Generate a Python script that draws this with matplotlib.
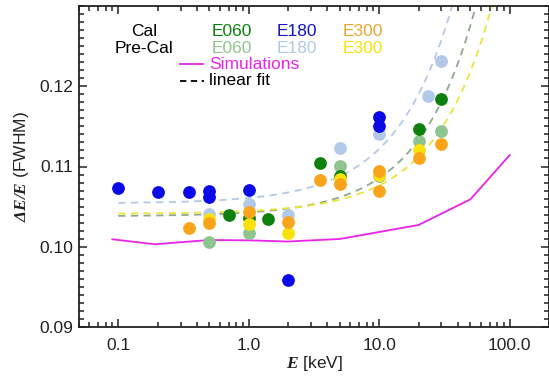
import numpy as np
import matplotlib
matplotlib.use("Agg")
import matplotlib.pyplot as plt
from matplotlib.ticker import FixedLocator, MultipleLocator, LogLocator, NullFormatter

plt.rcParams['font.family'] = ['Liberation Sans', 'DejaVu Sans']
plt.rcParams['mathtext.fontset'] = 'custom'
plt.rcParams['mathtext.rm'] = 'Liberation Sans'
plt.rcParams['mathtext.bfit'] = 'Liberation Serif:italic:bold'
plt.rcParams['mathtext.it'] = 'Liberation Serif:italic'
plt.rcParams['mathtext.bf'] = 'Liberation Serif:bold'

# ---- data (energy in keV, resolution dE/E FWHM) ----
cal_e060_E = [0.7, 1.0, 1.4, 3.5, 5.0, 20.0, 30.0]
cal_e060_R = [0.10396, 0.10354, 0.10342, 0.1104, 0.10882, 0.11467, 0.11845]

cal_e180_E = [0.1, 0.2, 0.35, 0.5, 0.5, 1.0, 2.0, 10.0, 10.0]
cal_e180_R = [0.10728, 0.10679, 0.1068, 0.1069, 0.10624, 0.10707, 0.09586, 0.1162, 0.1151]

cal_e300_E = [0.35, 0.5, 1.0, 2.0, 3.5, 5.0, 10.0, 10.0, 20.0, 30.0]
cal_e300_R = [0.10237, 0.1030, 0.10437, 0.10312, 0.10832, 0.1078, 0.10948, 0.10695, 0.11102, 0.11283]

pre_e060_E = [0.5, 1.0, 5.0, 10.0, 20.0, 30.0]
pre_e060_R = [0.10059, 0.10167, 0.1101, 0.1088, 0.11314, 0.11442]

pre_e180_E = [0.5, 1.0, 2.0, 5.0, 10.0, 23.5, 30.0]
pre_e180_R = [0.10408, 0.1053, 0.1040, 0.11227, 0.1140, 0.11882, 0.12315]

pre_e300_E = [0.5, 1.0, 2.0, 5.0, 10.0, 20.0]
pre_e300_R = [0.1035, 0.1028, 0.10175, 0.1084, 0.1090, 0.11206]

sim_E = [0.09, 0.19, 0.5, 1.0, 2.0, 5.0, 20.0, 50.0, 100.0]
sim_R = [0.10093, 0.10031, 0.10084, 0.1008, 0.10065, 0.10097, 0.10271, 0.10591, 0.11143]

# linear fits dE/E = a + b*E (Pre-Cal E180, E060, E300)
fit_a = [0.1054, 0.1038, 0.1041]
fit_b = [0.00068, 0.000476, 0.000355]

x_ticks = [0.1, 1.0, 10.0, 100.0]
x_ticklabels = ['0.1', '1.0', '10.0', '100.0']
y_ticks = [0.09, 0.10, 0.11, 0.12]
y_ticklabels = ['0.09', '0.10', '0.11', '0.12']

# colours
c_green = '#0d800d'
c_blue = '#0a0ae6'
c_orange = '#f8a51c'
c_lgreen = '#8ec48e'
c_lblue = '#b3c9e9'
c_yellow = '#fbe10a'
c_mag = '#e824e8'
c_fitgreen = '#8fa88f'
c_fitblue = '#b6c8e4'
c_fityellow = '#ece43a'

W, H = 549, 376
fig = plt.figure(figsize=(W / 100, H / 100), dpi=100)
ax = fig.add_axes([79 / W, 1 - 327 / H, 470 / W, 321 / H])

# fit lines
Egrid = np.logspace(-1, np.log10(200), 400)
for a, b, c in zip(fit_a, fit_b, [c_fitblue, c_fitgreen, c_fityellow]):
    ax.plot(Egrid, a + b * Egrid, color=c, lw=1.3, dashes=(4, 3), zorder=2)

# simulation
ax.plot(sim_E, sim_R, color=c_mag, lw=1.3, zorder=2)

ms = 9.2
for E, R, c in [(pre_e060_E, pre_e060_R, c_lgreen),
                (pre_e180_E, pre_e180_R, c_lblue),
                (cal_e060_E, cal_e060_R, c_green),
                (pre_e300_E, pre_e300_R, c_yellow),
                (cal_e300_E, cal_e300_R, c_orange),
                (cal_e180_E, cal_e180_R, c_blue)]:
    ax.plot(E, R, 'o', color=c, ms=ms, mec='none', zorder=3)

ax.set_xscale('log')
ax.set_xlim(0.05, 200)
ax.set_ylim(0.09, 0.13)
ax.xaxis.set_major_locator(FixedLocator(x_ticks))
ax.set_xticklabels(x_ticklabels)
ax.xaxis.set_minor_locator(LogLocator(base=10, subs=np.arange(2, 10)))
ax.xaxis.set_minor_formatter(NullFormatter())
ax.set_yticks(y_ticks)
ax.set_yticklabels(y_ticklabels)
ax.yaxis.set_minor_locator(MultipleLocator(0.001))

ax.tick_params(which='both', direction='in', top=True, right=True,
               labelsize=12.5, width=1.1, colors='#222222', labelcolor='#222222')
ax.tick_params(which='major', length=6)
ax.tick_params(axis='x', which='major', pad=8)
ax.tick_params(axis='y', which='major', pad=4)
ax.tick_params(which='minor', length=3.5)
for s in ax.spines.values():
    s.set_linewidth(1.3)
    s.set_color('#222222')

ax.set_ylabel(r'$\mathbfit{\Delta E/E}$ (FWHM)', fontsize=12.5, color='#222222')
ax.yaxis.set_label_coords(-0.103, 0.5)
ax.set_xlabel(r'$\mathbfit{E}$ [keV]', fontsize=12.5, color='#222222')
ax.xaxis.set_label_coords(0.5, -0.085)

# legend-like text block
def fx(x):
    return x / W

def fy(y):
    return 1 - y / H

fs = 12.5
fig.text(fx(144), fy(31.7), 'Cal', color='black', fontsize=fs, ha='center', va='center')
fig.text(fx(144), fy(48.3), 'Pre-Cal', color='black', fontsize=fs, ha='center', va='center')
for xc, c1, c2, lab in [(232, c_green, c_lgreen, 'E060'),
                        (296.5, '#1414c8', c_lblue, 'E180'),
                        (362.5, '#e8a530', c_yellow, 'E300')]:
    fig.text(fx(xc), fy(31.7), lab, color=c1, fontsize=fs, ha='center', va='center')
    fig.text(fx(xc), fy(48.3), lab, color=c2, fontsize=fs, ha='center', va='center')

fig.add_artist(plt.Line2D([fx(180), fx(203)], [fy(63.5), fy(63.5)], color=c_mag, lw=1.3))
fig.text(fx(209), fy(64.5), 'Simulations', color=c_mag, fontsize=fs, ha='left', va='center')
fig.add_artist(plt.Line2D([fx(180), fx(204)], [fy(80.5), fy(80.5)], color='black', lw=1.3, dashes=(3.5, 2.5)))
fig.text(fx(209), fy(80.5), 'linear fit', color='black', fontsize=fs, ha='left', va='center')

fig.savefig('out.png', dpi=100)
